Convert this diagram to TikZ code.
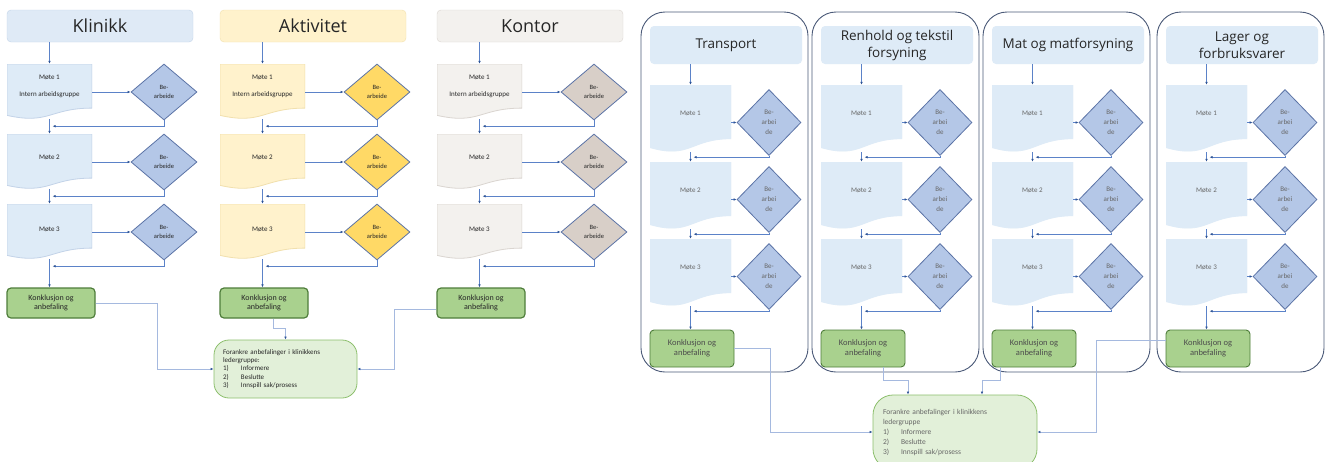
\documentclass[tikz,border=0pt]{standalone}
\usepackage{fontspec}
\setmainfont{Carlito}
\newfontfamily\headfont{Open Sans}
\usetikzlibrary{shapes.geometric,arrows.meta,calc}

\definecolor{titleblue}{HTML}{DFEAF6}
\definecolor{docblue}{HTML}{DEEBF7}
\definecolor{docblueedge}{HTML}{C3D3E8}
\definecolor{diamblue}{HTML}{B4C7E7}
\definecolor{diamedge}{HTML}{5B73A6}
\definecolor{docyellow}{HTML}{FFF2CC}
\definecolor{docyellowedge}{HTML}{F1E0AE}
\definecolor{diamgold}{HTML}{FFD966}
\definecolor{docgray}{HTML}{F3F1EE}
\definecolor{docgrayedge}{HTML}{DAD5D0}
\definecolor{diamtaupe}{HTML}{D8CFC8}
\definecolor{concgreen}{HTML}{A9D18E}
\definecolor{concedge}{HTML}{4E7D3A}
\definecolor{ankfill}{HTML}{E2F0D9}
\definecolor{ankedge}{HTML}{8CBF6C}
\definecolor{linkblue}{HTML}{5B82C8}
\definecolor{linklight}{HTML}{A5B9DF}
\definecolor{tipblue}{HTML}{2F5597}
\definecolor{paneledge}{HTML}{4B5A78}

\newcommand{\itemno}[1]{\makebox[18pt][l]{#1}}

\tikzset{
  conn/.style={draw=linkblue, line width=0.7pt, -{Latex[length=3pt,width=2.6pt,color=tipblue]}},
  longconn/.style={conn, draw=linklight},
  titlebox/.style={rectangle, rounded corners=4pt, line width=0.4pt, minimum width=186pt,
    minimum height=32pt, font=\headfont\fontsize{18}{22}\selectfont, text=black!85},
  rtitle/.style={rectangle, rounded corners=4pt, fill=docblue, minimum width=152pt,
    minimum height=38pt, align=center, font=\headfont\fontsize{13.5}{17}\selectfont, text=black!85},
  docshape/.style 2 args={rectangle, inner sep=0pt, fill=white, path picture={
      \filldraw[fill=#1, draw=#2, line width=0.8pt]
        (path picture bounding box.north west) -- (path picture bounding box.north east)
        -- ($(path picture bounding box.north east)!0.802!(path picture bounding box.south east)$)
        .. controls ($(path picture bounding box.north)!0.802!(path picture bounding box.south)$)
        and ($(path picture bounding box.north)!1.107!(path picture bounding box.south)$)
        .. ($(path picture bounding box.north west)!0.934!(path picture bounding box.south west)$)
        -- cycle;}},
  ltext/.style={align=center, inner sep=1pt, font=\fontsize{7}{8.5}\selectfont, text=black!85},
  rtext/.style={ltext, text=black!60},
  choice/.style={diamond, draw=diamedge, line width=0.8pt, inner sep=0pt, align=center,
    font=\fontsize{6.5}{9}\selectfont, text=black!85},
  concbox/.style={rectangle, rounded corners=4pt, draw=concedge, line width=1.2pt, fill=concgreen,
    align=center, font=\fontsize{8}{9.5}\selectfont, text=black!85},
  anchorbox/.style={rectangle, rounded corners=15pt, draw=ankedge, line width=0.8pt,
    fill=ankfill, align=left, inner sep=0pt},
  panel/.style={rectangle, rounded corners=24pt, draw=paneledge, line width=0.9pt, fill=white,
    minimum width=167pt, minimum height=360pt, inner sep=0pt}
}

% one unit on the left: prefix, left x, title, title fill, doc fill, doc edge, diamond fill
\newcommand{\leftcol}[7]{%
  \node[titlebox, fill=#4, draw=#6] (#1t) at (#2+93,26) {#3};
  \node[docshape={#5}{#6}, minimum width=85pt, minimum height=55pt] (#1m1) at (#2+42.5,91.5) {};
  \node[docshape={#5}{#6}, minimum width=85pt, minimum height=55pt] (#1m2) at (#2+42.5,161.5) {};
  \node[docshape={#5}{#6}, minimum width=85pt, minimum height=55pt] (#1m3) at (#2+42.5,231.5) {};
  \node[ltext] (#1l1) at (#2+42.5,86.5) {Møte 1\\[8pt]Intern arbeidsgruppe};
  \node[ltext] (#1l2) at (#2+42.5,157) {Møte 2};
  \node[ltext] (#1l3) at (#2+42.5,229) {Møte 3};
  \node[choice, fill=#7, minimum width=66pt, minimum height=56pt] (#1d1) at (#2+157,92) {Be-\\arbeide};
  \node[choice, fill=#7, minimum width=66pt, minimum height=56pt] (#1d2) at (#2+157,162) {Be-\\arbeide};
  \node[choice, fill=#7, minimum width=66pt, minimum height=56pt] (#1d3) at (#2+157,232) {Be-\\arbeide};
  \node[concbox, minimum width=88pt, minimum height=30pt] (#1c) at (#2+44,303) {Konklusjon og\\anbefaling};
  % flow
  \draw[conn] (#1m1.north |- #1t.south) -- (#1m1.north);
  \draw[conn] (#1m1.east |- #1d1) -- (#1d1.west);
  \draw[conn] (#1m2.east |- #1d2) -- (#1d2.west);
  \draw[conn] (#1m3.east |- #1d3) -- (#1d3.west);
  \draw[conn] (#1d1.south) |- ($(#1m1.south)+(3,7)$);
  \draw[conn] (#1d2.south) |- ($(#1m2.south)+(3,7)$);
  \draw[conn] (#1d3.south) |- ($(#1m3.south)+(3,7)$);
  \draw[conn] (#1m1.south) -- (#1m2.north);
  \draw[conn] (#1m2.south) -- (#1m3.north);
  \draw[conn] (#1m3.south) -- (#1m3.south |- #1c.north);
}

% one panel on the right: prefix, left x, title
\newcommand{\rightcol}[3]{%
  \node[panel] (#1p) at (#2+83.5,192) {};
  \node[rtitle] (#1t) at (#2+85,45) {#3};
  \node[docshape={docblue}{docblue}, minimum width=81pt, minimum height=67pt] (#1m1) at (#2+49.5,118.5) {};
  \node[docshape={docblue}{docblue}, minimum width=81pt, minimum height=67pt] (#1m2) at (#2+49.5,195.5) {};
  \node[docshape={docblue}{docblue}, minimum width=81pt, minimum height=67pt] (#1m3) at (#2+49.5,272.5) {};
  \node[rtext] (#1l1) at (#2+49.5,113) {Møte 1};
  \node[rtext] (#1l2) at (#2+49.5,190) {Møte 2};
  \node[rtext] (#1l3) at (#2+49.5,267) {Møte 3};
  \node[choice, fill=diamblue, text=black!60, font=\fontsize{7}{10}\selectfont,
    minimum width=64pt, minimum height=66pt] (#1d1) at (#2+128,122.5) {Be-\\arbei\\de};
  \node[choice, fill=diamblue, text=black!60, font=\fontsize{7}{10}\selectfont,
    minimum width=64pt, minimum height=66pt] (#1d2) at (#2+128,199.5) {Be-\\arbei\\de};
  \node[choice, fill=diamblue, text=black!60, font=\fontsize{7}{10}\selectfont,
    minimum width=64pt, minimum height=66pt] (#1d3) at (#2+128,276.5) {Be-\\arbei\\de};
  \node[concbox, line width=0.9pt, minimum width=84pt, minimum height=37pt,
    font=\fontsize{8.5}{10}\selectfont, text=black!70] (#1c) at (#2+51,348.5) {Konklusjon og\\anbefaling};
  % flow
  \draw[conn] (#1m1.north |- #1t.south) -- (#1m1.north);
  \draw[conn] (#1m1.east |- #1d1) -- (#1d1.west);
  \draw[conn] (#1m2.east |- #1d2) -- (#1d2.west);
  \draw[conn] (#1m3.east |- #1d3) -- (#1d3.west);
  \draw[conn] (#1d1.south) |- ($(#1m1.south)+(3,5)$);
  \draw[conn] (#1d2.south) |- ($(#1m2.south)+(3,5)$);
  \draw[conn] (#1d3.south) |- ($(#1m3.south)+(3,5)$);
  \draw[conn] (#1m1.south) -- (#1m2.north);
  \draw[conn] (#1m2.south) -- (#1m3.north);
  \draw[conn] (#1m3.south) -- (#1m3.south |- #1c.north);
}

\begin{document}
\begin{tikzpicture}[x=1pt,y=-1pt]
\useasboundingbox (0,0) rectangle (1331,461);
\clip (0,0) rectangle (1331,461);

% left part
\leftcol{kl}{7}{Klinikk}{titleblue}{docblue}{docblueedge}{diamblue}
\leftcol{ak}{220}{Aktivitet}{docyellow}{docyellow}{docyellowedge}{diamgold}
\leftcol{ko}{437}{Kontor}{docgray}{docgray}{docgrayedge}{diamtaupe}

\node[anchorbox, minimum width=143pt, minimum height=58pt, text width=125pt,
  font=\fontsize{7}{8.3}\selectfont, text=black!85] (fl) at (285.5,369)
  {Forankre anbefalinger i klinikkens\\ledergruppe:\\\itemno{1)}Informere\\\itemno{2)}Beslutte\\\itemno{3)}Innspill sak/prosess};

\draw[longconn] (klc.east) -- ++(62,0) |- (fl.west);
\draw[longconn] ($(akc.south)+(9,0)$) -- ++(0,10) -| (fl.north);
\draw[longconn] ($(koc.west)+(0,6)$) -- ++(-42,0) |- (fl.east);

% right part
\rightcol{tr}{641}{Transport}
\rightcol{re}{812}{Renhold og tekstil\\forsyning}
\rightcol{ma}{983}{Mat og matforsyning}
\rightcol{la}{1157}{Lager og\\forbruksvarer}

\node[anchorbox, rounded corners=20pt, minimum width=164pt, minimum height=74pt, text width=144pt,
  font=\fontsize{7.5}{10}\selectfont, text=black!60] (fr) at (955,432)
  {Forankre anbefalinger i klinikkens\\ledergruppe\\\itemno{1)}Informere\\\itemno{2)}Beslutte\\\itemno{3)}Innspill sak/prosess};

\draw[longconn] (trc.east) -- ++(36,0) |- (fr.west);
\draw[longconn] ($(rec.south)+(20,0)$) -- ++(0,13) -| ($(fr.north)+(-47,0)$);
\draw[longconn] ($(mac.south)+(-34,0)$) -- ++(0,13) -| ($(fr.north)+(27,0)$);
\draw[longconn] ($(lac.west)+(0,-8)$) -- ++(-69,0) |- (fr.east);

\end{tikzpicture}
\end{document}
